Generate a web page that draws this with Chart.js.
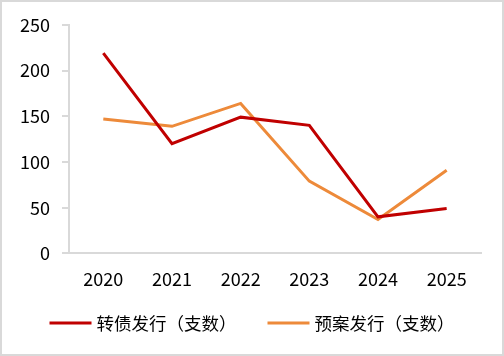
<!DOCTYPE html>
<html>
<head>
<meta charset="utf-8">
<script src="https://cdn.jsdelivr.net/npm/chart.js@4"></script>
<style>
html,body{margin:0;padding:0;background:#fff;}
#wrap{position:absolute;left:0;top:0;width:504px;height:356px;box-sizing:border-box;border:2px solid #d9d9d9;background:#fff;}
#c{display:block;}
</style>
</head>
<body>
<div id="wrap"><canvas id="c" width="500" height="352"></canvas></div>
<script>
const categories = ['2020','2021','2022','2023','2024','2025'];
const issuance = [219, 120, 149, 140, 40, 49];
const proposals = [147, 139, 164, 79, 37, 91];
const yTicks = [0, 50, 100, 150, 200, 250];

const font = "'Microsoft YaHei','Noto Sans CJK SC','DejaVu Sans',sans-serif";

// legend drawn from the datasets' labels and colours
const bottomLegend = {
  id: 'bottomLegend',
  afterDraw(chart) {
    const ctx = chart.ctx;
    const sw = 42, gapText = 5, gapItem = 31, y = 321;
    ctx.save();
    ctx.font = `17.5px ${font}`;
    ctx.textBaseline = 'middle';
    ctx.textAlign = 'left';
    const items = chart.data.datasets.map(ds => ({label: ds.label, color: ds.borderColor, w: ctx.measureText(ds.label).width}));
    const total = items.reduce((s, it) => s + sw + gapText + it.w, 0) + gapItem * (items.length - 1);
    let x = (chart.width - total) / 2;
    items.forEach(it => {
      ctx.fillStyle = it.color;
      ctx.fillRect(x, y - 1.5, sw, 3);
      x += sw + gapText;
      ctx.fillStyle = '#000';
      ctx.fillText(it.label, x, y);
      x += it.w + gapItem;
    });
    ctx.restore();
  }
};

new Chart(document.getElementById('c'), {
  type: 'line',
  data: {
    labels: categories,
    datasets: [
      {label: '转债发行（支数）', data: issuance, borderColor: '#C00000', backgroundColor: '#C00000', borderWidth: 3, pointRadius: 0, tension: 0},
      {label: '预案发行（支数）', data: proposals, borderColor: '#ED8A3A', backgroundColor: '#ED8A3A', borderWidth: 3, pointRadius: 0, tension: 0}
    ]
  },
  plugins: [bottomLegend],
  options: {
    responsive: false,
    animation: false,
    layout: {padding: {left: 6, right: 21, top: 6, bottom: 57}},
    plugins: {
      tooltip: {enabled: false},
      legend: {display: false}
    },
    scales: {
      x: {
        offset: true,
        grid: {display: false},
        border: {display: true, color: '#d9d9d9', width: 2},
        ticks: {color: '#000', padding: 7, font: {family: font, size: 18}}
      },
      y: {
        min: 0, max: 250,
        afterBuildTicks: (s) => { s.ticks = yTicks.map(v => ({value: v})); },
        grid: {display: true, drawOnChartArea: false, drawTicks: true, tickLength: 7, color: '#d9d9d9', lineWidth: 2},
        border: {display: true, color: '#d9d9d9', width: 2},
        ticks: {color: '#000', padding: 12, font: {family: font, size: 18}}
      }
    }
  }
});
</script>
</body>
</html>
